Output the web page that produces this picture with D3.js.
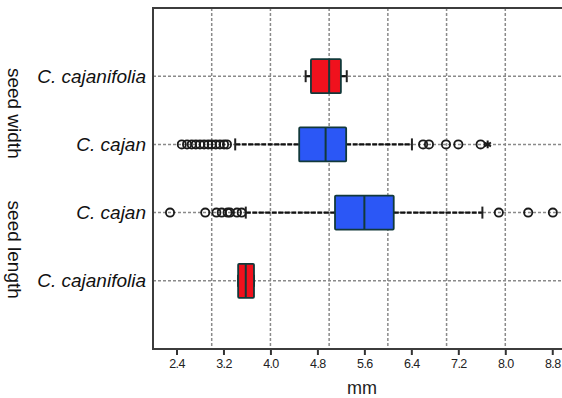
<!DOCTYPE html>
<html>
<head>
<meta charset="utf-8">
<script src="https://cdn.jsdelivr.net/npm/d3@7"></script>
<style>
body { margin: 0; background: #fff; }
svg { display: block; }
</style>
</head>
<body>
<svg id="chart"></svg>
<script>
// rows from top to bottom
let species = ["C. cajanifolia", "C. cajan", "C. cajan", "C. cajanifolia"];
let traits = ["seed width", "seed width", "seed length", "seed length"];
let traitLabels = ["seed width", "seed length"];
let boxColors = ["red", "blue", "blue", "red"];

let q1 = [4.69, 4.49, 5.10, 3.45];
let median = [5.00, 4.94, 5.60, 3.58];
let q3 = [5.20, 5.29, 6.10, 3.72];
let whiskerLow = [4.60, 3.40, 3.58, 3.45];
let whiskerHigh = [5.30, 6.41, 7.61, 3.72];

let outliers = [
  [],
  [2.49, 2.58, 2.66, 2.73, 2.80, 2.87, 2.94, 3.00, 3.07, 3.14, 3.21, 3.26, 6.60, 6.70, 6.99, 7.20, 7.58],
  [2.29, 2.89, 3.08, 3.17, 3.27, 3.31, 3.43, 3.51, 7.89, 8.39, 8.81],
  []
];
let extremes = [[], [7.70], [], []];

let xTicks = [2.4, 3.2, 4.0, 4.8, 5.6, 6.4, 7.2, 8.0, 8.8];
let gridX = [3, 4, 5, 6, 7, 8];

let width = 562;
let height = 398;
let plotLeft = 153, plotTop = 8, plotRight = 564, plotBottom = 349;

let fills = { red: "#f0111d", blue: "#2b57f6" };
let edge = "#12393a";

let svg = d3.select("#chart")
  .attr("width", width)
  .attr("height", height)
  .style("font-family", "'Liberation Sans', Arial, sans-serif");

let scaleX = d3.scaleLinear().domain([2, 9]).range([plotLeft, plotRight]);
let rowIds = species.map((s, i) => i);
let scaleY = d3.scalePoint().domain(rowIds).range([plotTop, plotBottom]).padding(1);

// grid
svg.append("g")
  .selectAll("line")
  .data(gridX)
  .enter()
  .append("line")
  .attr("x1", d => scaleX(d)).attr("x2", d => scaleX(d))
  .attr("y1", plotTop).attr("y2", plotBottom)
  .style("stroke", "#8a8a8a")
  .style("stroke-width", 1.5)
  .style("stroke-dasharray", "3,2");

svg.append("g")
  .selectAll("line")
  .data(rowIds)
  .enter()
  .append("line")
  .attr("x1", plotLeft).attr("x2", width)
  .attr("y1", d => scaleY(d)).attr("y2", d => scaleY(d))
  .style("stroke", "#8a8a8a")
  .style("stroke-width", 1.5)
  .style("stroke-dasharray", "3,2");

// x axis
let axisX = d3.axisBottom(scaleX)
  .tickValues(xTicks)
  .tickFormat(d3.format(".1f"))
  .tickSizeOuter(0)
  .tickSize(6);

let gx = svg.append("g")
  .attr("transform", `translate(0, ${plotBottom})`)
  .call(axisX);
gx.select(".domain").remove();
gx.selectAll(".tick line").style("stroke", "#333").style("stroke-width", 2);
gx.selectAll(".tick text")
  .attr("y", 10)
  .style("font-family", "'Liberation Sans', Arial, sans-serif")
  .style("font-size", "12.5px")
  .style("letter-spacing", "-0.6px")
  .style("fill", "#222");

// frame: left, top, bottom
svg.append("path")
  .attr("d", `M${width},${plotTop}H${plotLeft}V${plotBottom}H${width}`)
  .style("fill", "none")
  .style("stroke", "#3c3c3c")
  .style("stroke-width", 2);

svg.append("text")
  .attr("x", 362)
  .attr("y", 394)
  .attr("text-anchor", "middle")
  .style("font-size", "18px")
  .style("fill", "#222")
  .text("mm");

// row labels
svg.append("g")
  .selectAll("text")
  .data(rowIds)
  .enter()
  .append("text")
  .attr("x", 146)
  .attr("y", d => scaleY(d) + 6.5)
  .attr("text-anchor", "end")
  .style("font-size", "19px")
  .style("font-style", "italic")
  .style("fill", "#111")
  .text(d => species[d]);

// trait labels, rotated
svg.append("g")
  .selectAll("text")
  .data(traitLabels)
  .enter()
  .append("text")
  .attr("transform", d => {
    let ids = rowIds.filter(i => traits[i] == d);
    let cy = d3.mean(ids.map(i => scaleY(i))) + 3;
    return `translate(8, ${cy}) rotate(90)`;
  })
  .attr("text-anchor", "middle")
  .style("font-size", "19px")
  .style("fill", "#111")
  .text(d => d);

let boxH = 34;
let capH = 12;

let rows = svg.append("g")
  .selectAll("g")
  .data(rowIds)
  .enter()
  .append("g");

// whiskers
rows.append("line")
  .attr("x1", d => scaleX(whiskerLow[d])).attr("x2", d => scaleX(q1[d]))
  .attr("y1", d => scaleY(d)).attr("y2", d => scaleY(d))
  .style("stroke", "#111").style("stroke-width", 2.2).style("stroke-dasharray", "5,1.5");
rows.append("line")
  .attr("x1", d => scaleX(q3[d])).attr("x2", d => scaleX(whiskerHigh[d]))
  .attr("y1", d => scaleY(d)).attr("y2", d => scaleY(d))
  .style("stroke", "#111").style("stroke-width", 2.2).style("stroke-dasharray", "5,1.5");
rows.append("line")
  .attr("x1", d => scaleX(whiskerLow[d])).attr("x2", d => scaleX(whiskerLow[d]))
  .attr("y1", d => scaleY(d) - capH / 2).attr("y2", d => scaleY(d) + capH / 2)
  .style("stroke", "#222").style("stroke-width", 2);
rows.append("line")
  .attr("x1", d => scaleX(whiskerHigh[d])).attr("x2", d => scaleX(whiskerHigh[d]))
  .attr("y1", d => scaleY(d) - capH / 2).attr("y2", d => scaleY(d) + capH / 2)
  .style("stroke", "#222").style("stroke-width", 2);

// boxes
rows.append("rect")
  .attr("x", d => scaleX(q1[d]))
  .attr("width", d => scaleX(q3[d]) - scaleX(q1[d]))
  .attr("y", d => scaleY(d) - boxH / 2)
  .attr("height", boxH)
  .attr("rx", 1)
  .style("fill", d => fills[boxColors[d]])
  .style("stroke", edge)
  .style("stroke-width", 1.8);

rows.append("line")
  .attr("x1", d => scaleX(median[d])).attr("x2", d => scaleX(median[d]))
  .attr("y1", d => scaleY(d) - boxH / 2).attr("y2", d => scaleY(d) + boxH / 2)
  .style("stroke", edge).style("stroke-width", 2);

// outliers
rows.each(function(d) {
  let g = d3.select(this);
  g.selectAll("circle")
    .data(outliers[d])
    .enter()
    .append("circle")
    .attr("cx", v => scaleX(v))
    .attr("cy", scaleY(d))
    .attr("r", 4.1)
    .style("fill", "none")
    .style("stroke", "#1a1a1a")
    .style("stroke-width", 1.8);
  g.selectAll(".extreme")
    .data(extremes[d])
    .enter()
    .append("path")
    .attr("class", "extreme")
    .attr("d", d3.symbol(d3.symbolAsterisk, 40))
    .attr("transform", v => `translate(${scaleX(v)}, ${scaleY(d)})`)
    .style("fill", "none")
    .style("stroke", "#1a1a1a")
    .style("stroke-width", 2);
});
</script>
</body>
</html>
